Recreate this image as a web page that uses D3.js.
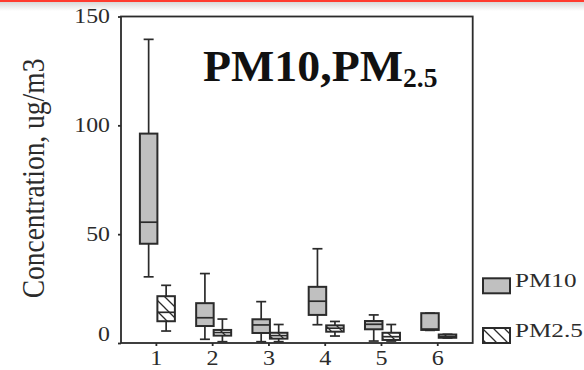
<!DOCTYPE html>
<html><head><meta charset="utf-8">
<script src="https://cdn.jsdelivr.net/npm/d3@7"></script>
<style>html,body{margin:0;padding:0;background:#fff;overflow:hidden}</style>
</head><body>
<svg id="c" width="584" height="370"></svg>
<script>
// ---- data ----
const categories = [1, 2, 3, 4, 5, 6];
const series = ["PM10", "PM2.5"];
// [whisker low, Q1, median, Q3, whisker high]
const pm10 = [
  [30.4, 45.6, 55.5, 96.2, 139.5],
  [1.7, 7.8, 11.6, 18.3, 31.9],
  [0.6, 4.6, 8.3, 10.9, 19.0],
  [8.4, 12.9, 19.2, 25.8, 43.3],
  [0.9, 6.3, 8.6, 10.1, 12.9],
  [5.8, 6.0, 6.4, 13.7, 13.7]
];
const pm25 = [
  [5.5, 10.0, 14.1, 21.5, 26.5],
  [0.6, 3.4, 4.8, 6.0, 11.0],
  [0.6, 2.0, 3.4, 4.7, 8.5],
  [3.2, 5.2, 6.8, 8.1, 9.9],
  [0.9, 1.4, 2.9, 4.7, 8.5],
  [2.3, 2.4, 3.0, 3.9, 4.0]
];
const yTicks = [0, 50, 100, 150];
const yLabel = "Concentration, ug/m3";
const titleMain = "PM10,PM";
const titleSub = "2.5";

// ---- chart ----
const svg = d3.select("#c");
const ink = "#2b2b2b";
const serif = "'Liberation Serif','Times New Roman',serif";

// top red bar with shadow
const defs = svg.append("defs");
const g1 = defs.append("linearGradient").attr("id","shade").attr("x1",0).attr("x2",0).attr("y1",0).attr("y2",1);
g1.append("stop").attr("offset",0).attr("stop-color","#d8d8d8");
g1.append("stop").attr("offset",1).attr("stop-color","#ffffff");
svg.append("rect").attr("x",0).attr("y",2).attr("width",584).attr("height",9).attr("fill","url(#shade)");
svg.append("rect").attr("x",0).attr("y",0).attr("width",584).attr("height",2).attr("fill","#ff3b2f");

// hatch pattern
const pat = defs.append("pattern").attr("id","hatch").attr("patternUnits","userSpaceOnUse")
  .attr("width",11).attr("height",11);
pat.append("rect").attr("width",11).attr("height",11).attr("fill","#fff");
pat.append("path").attr("d","M-1,-1 L12,12 M-1,10 L1,12 M10,-1 L12,1").attr("stroke",ink).attr("stroke-width",1.3);

const x = d3.scaleLinear().domain([0.38, 6.63]).range([121, 472.7]);
const y = d3.scaleLinear().domain([0, 150]).range([343, 16.5]);
const off = d3.scaleBand().domain(series).range([-16, 19]).padding(0);

// frame
svg.append("rect").attr("x", x(0.38)).attr("y", y(150))
  .attr("width", x(6.63) - x(0.38)).attr("height", y(0) - y(150))
  .attr("fill","none").attr("stroke", ink).attr("stroke-width", 1.8);

// y axis
const yAxis = svg.append("g").attr("transform", `translate(${x(0.38)},0)`)
  .call(d3.axisLeft(y).tickValues(yTicks).tickSize(3).tickPadding(8));
yAxis.select(".domain").remove();
yAxis.selectAll("line").attr("stroke", ink).attr("stroke-width", 1.8);
yAxis.selectAll("text").attr("font-family", serif).attr("font-size", 20).attr("fill", ink)
  .attr("dy", d => d === 0 ? "-0.15em" : "0.32em")
  .style("transform-box","fill-box").style("transform-origin","right center")
  .style("transform","scaleX(1.19)");

// x axis
const xAxis = svg.append("g").attr("transform", `translate(0,${y(0)})`)
  .call(d3.axisBottom(x).tickValues(categories).tickSize(3).tickPadding(4).tickFormat(d3.format("d")));
xAxis.select(".domain").remove();
xAxis.selectAll("line").attr("stroke", ink).attr("stroke-width", 1.8);
xAxis.selectAll("text").attr("font-family", serif).attr("font-size", 21).attr("fill", ink)
  .style("transform-box","fill-box").style("transform-origin","center").style("transform","scaleX(1.15)");

// y label
svg.append("text").attr("transform", `translate(33,${(57+300)/2}) scale(1.15,1) rotate(-90)`)
  .attr("text-anchor","middle").attr("dominant-baseline","central")
  .attr("font-family", serif).attr("font-size", 27.5).attr("fill", ink).text(yLabel);

// boxes
function drawBoxes(data, key, fill) {
  const bw = off.bandwidth();
  const g = svg.append("g");
  data.forEach((v, i) => {
    const cx = x(categories[i]) + off(key);
    const mid = cx + bw/2;
    const cap = 5;
    const s = g.append("g").attr("stroke", ink).attr("stroke-width", 1.7);
    s.append("line").attr("x1", mid).attr("x2", mid).attr("y1", y(v[4])).attr("y2", y(v[3]));
    s.append("line").attr("x1", mid).attr("x2", mid).attr("y1", y(v[1])).attr("y2", y(v[0]));
    s.append("line").attr("x1", mid-cap).attr("x2", mid+cap).attr("y1", y(v[4])).attr("y2", y(v[4]));
    s.append("line").attr("x1", mid-cap).attr("x2", mid+cap).attr("y1", y(v[0])).attr("y2", y(v[0]));
    s.append("rect").attr("x", cx).attr("y", y(v[3])).attr("width", bw).attr("height", Math.max(0.5, y(v[1]) - y(v[3])))
      .attr("fill", fill).attr("stroke-width", 2);
    s.append("line").attr("x1", cx).attr("x2", cx+bw).attr("y1", y(v[2])).attr("y2", y(v[2]));
  });
}
drawBoxes(pm10, "PM10", "#c0c0c0");
drawBoxes(pm25, "PM2.5", "url(#hatch)");

// title
const t = svg.append("text").attr("x", 203).attr("y", 81)
  .attr("font-family", serif).attr("font-weight","bold").attr("font-size", 45).attr("fill","#111")
  .style("transform-box","fill-box").style("transform-origin","left center").style("transform","scaleX(1.02)");
t.append("tspan").text(titleMain);
t.append("tspan").attr("font-size", 27).attr("dy", 6).text(titleSub);

// legend
const legY = [285.8, 335.5];
const leg = svg.append("g");
series.forEach((s, i) => {
  leg.append("rect").attr("x", 483).attr("y", legY[i]-7.5).attr("width", 27).attr("height", 15)
    .attr("fill", i === 0 ? "#c0c0c0" : "url(#hatch)").attr("stroke", ink).attr("stroke-width", 2);
  leg.append("text").attr("x", 515).attr("y", legY[i] + 1.5)
    .attr("font-family", serif).attr("font-size", 18).attr("fill", ink)
    .style("transform-box","fill-box").style("transform-origin","left center").style("transform","scaleX(1.4)")
    .text(s);
});
</script>
</body></html>
